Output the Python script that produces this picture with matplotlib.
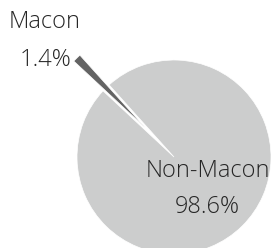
import matplotlib
matplotlib.use("Agg")
import matplotlib.pyplot as plt
import numpy as np

categories = ["Macon", "Non-Macon"]
shares = [1.4, 98.6]
pct_labels = ["1.4%", "98.6%"]

colors = ["#636363", "#CCCDCD"]
explode = [0.43, 0.0]

W, H = 271, 248
fig = plt.figure(figsize=(W / 100, H / 100), dpi=100)
ax = fig.add_axes([0, 0, 1, 1])

R = 97.0  # pixel radius
cx, cy = 174.0, 157.0  # pixel center (from top-left)

mid_macon = 134.5
start = mid_macon - shares[0] / 100 * 360 / 2
wedges, _ = ax.pie(shares, colors=colors, explode=explode, startangle=start,
                   counterclock=True, radius=1.0, center=(0, 0), frame=True,
                   wedgeprops=dict(edgecolor="white", linewidth=0.5))
ax.set_xlim(-cx / R, (W - cx) / R)
ax.set_ylim(-(H - cy) / R, cy / R)
ax.set_aspect("auto")
ax.axis("off")

font = dict(family=["Open Sans", "DejaVu Sans"], weight="light", fontsize=17, color="#262626")

def px(x, y):
    return ((x - cx) / R, (cy - y) / R)

# label positions (pixel coords: center x, baseline y)
name_pos = [(45, 28.3), (207.5, 177)]
pct_pos = [(46, 66), (207.5, 213)]
for i in range(len(categories)):
    x, y = px(*name_pos[i])
    ax.text(x, y, categories[i], ha="center", va="baseline", **font)
    x, y = px(*pct_pos[i])
    ax.text(x, y, pct_labels[i], ha="center", va="baseline", **font)

fig.savefig("out.png", dpi=100)
